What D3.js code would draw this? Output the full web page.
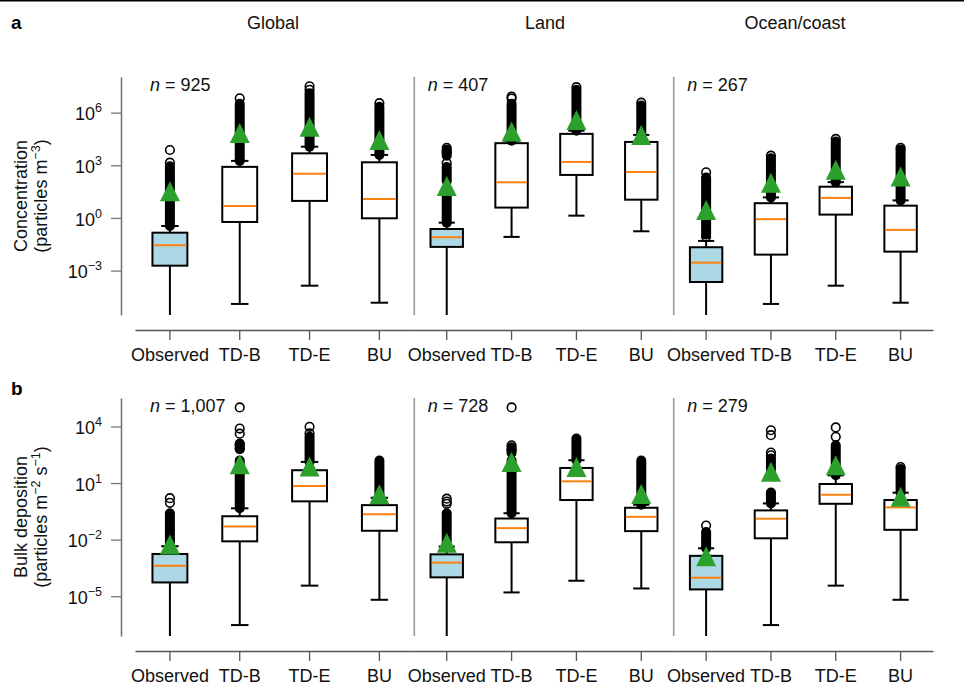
<!DOCTYPE html>
<html>
<head>
<meta charset="utf-8">
<script src="https://cdn.jsdelivr.net/npm/d3@7"></script>
<style>
body { margin: 0; background: #fff; }
svg { font-family: "Liberation Sans", Arial, Helvetica, sans-serif; }
</style>
</head>
<body>
<script>
// all box statistics below are log10 of the value
// order: Global (Obs, TD-B, TD-E, BU), Land (...), Ocean/coast (...)
var regions = ["Global", "Land", "Ocean/coast"];
var models = ["Observed", "TD-B", "TD-E", "BU"];

// a: concentration (particles m-3)
var concN = ["925", "407", "267"];
var concQ1 = [-2.72, -0.23, 0.97, -0.02, -1.65, 0.59, 2.45, 1.04, -3.65, -2.09, 0.19, -1.92];
var concMed = [-1.56, 0.68, 2.52, 1.08, -1.10, 2.03, 3.19, 2.62, -2.55, -0.07, 1.14, -0.68];
var concQ3 = [-0.84, 2.91, 3.68, 3.17, -0.63, 4.26, 4.79, 4.33, -1.67, 0.84, 1.78, 0.70];
var concLo = [-6, -4.9, -3.86, -4.83, -6, -1.08, 0.13, -0.76, -6, -4.9, -3.86, -4.83];
var concHi = [-0.46, 3.25, 4.06, 3.59, -0.27, 4.4, 4.97, 4.73, -1.31, 1.17, 2.04, 1.0];
var concMean = [1.52, 4.84, 5.2, 4.44, 1.82, 4.92, 5.58, 4.73, 0.45, 2.0, 2.75, 2.36];
// runs of overlapping fliers [from, to], and single fliers
var concDense = [
  [[-0.46, 2.95]], [[3.25, 6.5]], [[4.06, 7.1]], [[3.59, 6.34]],
  [[-0.27, 1.5], [2.1, 2.9], [3.55, 3.9]], [[4.4, 6.5]], [[4.97, 7.3]], [[4.73, 6.4]],
  [[-0.95, 2.3]], [[1.17, 3.4]], [[2.04, 4.35]], [[1.0, 3.9]]
];
var concFliers = [
  [3.15, 3.87], [6.82], [7.3, 7.5], [6.54],
  [3.12, 3.75, 4.0], [6.8, 6.91], [7.45], [6.57],
  [-1.07, 2.6], [3.55], [4.5], [4.0]
];

// b: bulk deposition (particles m-2 s-1)
var depN = ["1,007", "728", "279"];
var depQ1 = [-4.27, -2.09, 0.03, -1.53, -4.00, -2.14, 0.10, -1.55, -4.64, -1.93, -0.10, -1.48];
var depMed = [-3.39, -1.30, 0.84, -0.66, -3.22, -1.39, 1.09, -0.79, -4.02, -0.89, 0.38, -0.29];
var depQ3 = [-2.76, -0.76, 1.68, -0.17, -2.78, -0.88, 1.80, -0.31, -2.86, -0.45, 0.95, 0.10];
var depLo = [-8, -6.53, -4.44, -5.19, -8, -4.8, -4.18, -4.59, -8, -6.53, -4.44, -5.19];
var depHi = [-2.35, -0.34, 2.12, 0.22, -2.37, -0.6, 2.21, -0.15, -2.46, -0.08, 1.41, 0.49];
var depMean = [-2.26, 2.0, 1.88, 0.4, -2.17, 2.12, 1.85, 0.42, -2.88, 1.6, 1.94, 0.28];
var depDense = [
  [[-2.35, -0.6]], [[-0.34, 2.2], [2.8, 3.1]], [[2.12, 3.45]], [[0.22, 2.2]],
  [[-2.37, -0.6]], [[-0.6, 2.2], [2.6, 2.9]], [[2.21, 3.36]], [[-0.15, 2.2]],
  [[-2.46, -1.6]], [[-0.08, 0.5], [1.7, 2.3]], [[1.41, 3.0]], [[0.49, 1.75]]
];
var depFliers = [
  [-0.05, 0.2], [2.83, 3.05, 3.62, 3.89, 5.01], [3.63, 3.98], [],
  [-0.1, 0.02, 0.17], [2.75, 3.0, 5.01], [], [],
  [-1.25], [0.45, 2.47, 2.62, 3.54, 3.8], [3.45, 3.95], [1.85]
];

var concTicks = [-3, 0, 3, 6];
var depTicks = [-5, -2, 1, 4];

var width = 964;
var height = 685;

var svg = d3.select("body")
            .append("svg")
            .attr("width", width)
            .attr("height", height);

// rule at the very top
svg.append("line")
   .attr("x1", 0).attr("x2", width)
   .attr("y1", 0.75).attr("y2", 0.75)
   .attr("stroke", "#000")
   .attr("stroke-width", 1.5);

var regionX = [[135, 414.3], [414.3, 673.7], [673.7, 933]];
var xScales = regionX.map(function(r){
  return d3.scaleBand().domain(models).range(r);
});

var panels = [
  { id: "a", top: 77, bottom: 315, axisY: 330, dom: [-5.53, 8.03], ticks: concTicks,
    n: concN, q1: concQ1, med: concMed, q3: concQ3, lo: concLo, hi: concHi,
    mean: concMean, dense: concDense, fliers: concFliers,
    label: ["Concentration", ["(particles m", ["−3"], ")"]] },
  { id: "b", top: 398, bottom: 636, axisY: 651, dom: [-7.11, 5.51], ticks: depTicks,
    n: depN, q1: depQ1, med: depMed, q3: depQ3, lo: depLo, hi: depHi,
    mean: depMean, dense: depDense, fliers: depFliers,
    label: ["Bulk deposition", ["(particles m", ["−2"], " s", ["−1"], ")"]] }
];

function supText(sel, parts){
  // parts: strings, or one-element arrays for superscripts
  var up = false;
  parts.forEach(function(p){
    if (Array.isArray(p)) {
      sel.append("tspan").attr("dy", -7).attr("font-size", 12.5).text(p[0]);
      up = true;
    } else {
      sel.append("tspan").attr("dy", up ? 7 : 0).text(p);
      up = false;
    }
  });
}

panels.forEach(function(p){

  var yScale = d3.scaleLog()
                 .domain([Math.pow(10, p.dom[0]), Math.pow(10, p.dom[1])])
                 .range([p.bottom, p.top]);
  var y = function(v){ return yScale(Math.pow(10, v)); };

  var g = svg.append("g");

  // panel letter
  g.append("text")
   .attr("x", 11).attr("y", p.id == "a" ? 29 : 395)
   .attr("font-size", 19).attr("font-weight", "bold")
   .text(p.id);

  // y axis
  var yAxis = d3.axisLeft(yScale)
                .tickValues(p.ticks.map(function(t){ return Math.pow(10, t); }))
                .tickSize(10)
                .tickSizeOuter(0)
                .tickPadding(9)
                .tickFormat("");
  var ya = g.append("g")
            .attr("transform", "translate(121,0)")
            .call(yAxis);
  ya.select(".domain").attr("stroke", "#777").attr("stroke-width", 1.6);
  ya.selectAll(".tick line").attr("stroke", "#777").attr("stroke-width", 1.3);
  ya.selectAll(".tick text")
    .attr("font-size", 18).attr("fill", "#111").attr("dy", "0.4em")
    .each(function(d){
      var e = Math.round(Math.log10(d));
      var t = d3.select(this);
      t.append("tspan").text("10");
      t.append("tspan").attr("dy", -8).attr("font-size", 12.5)
       .text(e < 0 ? "−" + (-e) : String(e));
    });

  // y label
  var mid = (p.top + p.bottom) / 2;
  g.append("text")
   .attr("transform", "translate(27," + mid + ") rotate(-90)")
   .attr("text-anchor", "middle").attr("font-size", 18).attr("fill", "#111")
   .text(p.label[0]);
  var l2 = g.append("text")
            .attr("transform", "translate(47," + mid + ") rotate(-90)")
            .attr("text-anchor", "middle").attr("font-size", 18).attr("fill", "#111");
  supText(l2, p.label[1]);

  var clipId = "clip-" + p.id;
  svg.append("clipPath").attr("id", clipId)
     .append("rect")
     .attr("x", 122).attr("y", p.top - 20)
     .attr("width", width - 122).attr("height", p.bottom - p.top + 20);

  regions.forEach(function(reg, ri){
    var xs = xScales[ri];
    var bw = xs.bandwidth();
    var boxW = bw * 0.5;
    var capW = boxW * 0.5;

    // separator between regions
    if (ri > 0) {
      g.append("line")
       .attr("x1", xs.range()[0]).attr("x2", xs.range()[0])
       .attr("y1", p.top).attr("y2", p.bottom)
       .attr("stroke", "#999").attr("stroke-width", 1.6);
    }

    // region title (panel a only)
    if (p.id == "a") {
      g.append("text")
       .attr("x", ri == 0 ? 273 : (ri == 1 ? 545 : 795)).attr("y", 29)
       .attr("text-anchor", "middle").attr("font-size", 18).attr("fill", "#111")
       .text(reg);
    }

    // n = ...
    var nt = g.append("text")
              .attr("x", ri == 0 ? 150 : xs.range()[0] + 13.5)
              .attr("y", p.top + 14)
              .attr("font-size", 18).attr("fill", "#111");
    nt.append("tspan").attr("font-style", "italic").text("n");
    nt.append("tspan").text(" = " + p.n[ri]);

    // x axis
    var xAxis = d3.axisBottom(xs).tickSize(10).tickSizeOuter(0).tickPadding(8);
    var xa = g.append("g")
              .attr("transform", "translate(0," + p.axisY + ")")
              .call(xAxis);
    xa.select(".domain").attr("stroke", "#555").attr("stroke-width", 1.6);
    xa.selectAll(".tick line").attr("stroke", "#555").attr("stroke-width", 1.3);
    xa.selectAll(".tick text").attr("font-size", 18).attr("fill", "#111");

    var cg = g.append("g").attr("clip-path", "url(#" + clipId + ")");

    models.forEach(function(m, mi){
      var i = ri * 4 + mi;
      var cx = xs(m) + bw / 2;

      // whiskers
      cg.append("line")
        .attr("x1", cx).attr("x2", cx)
        .attr("y1", y(p.q1[i])).attr("y2", y(p.lo[i]))
        .attr("stroke", "#000").attr("stroke-width", 2);
      cg.append("line")
        .attr("x1", cx).attr("x2", cx)
        .attr("y1", y(p.q3[i])).attr("y2", y(p.hi[i]))
        .attr("stroke", "#000").attr("stroke-width", 2);
      [p.lo[i], p.hi[i]].forEach(function(v){
        cg.append("line")
          .attr("x1", cx - capW / 2).attr("x2", cx + capW / 2)
          .attr("y1", y(v)).attr("y2", y(v))
          .attr("stroke", "#000").attr("stroke-width", 2);
      });

      // box
      cg.append("rect")
        .attr("x", cx - boxW / 2)
        .attr("y", y(p.q3[i]))
        .attr("width", boxW)
        .attr("height", y(p.q1[i]) - y(p.q3[i]))
        .attr("fill", mi == 0 ? "#add8e6" : "#fff")
        .attr("stroke", "#000").attr("stroke-width", 2);
      cg.append("line")
        .attr("x1", cx - boxW / 2 + 1).attr("x2", cx + boxW / 2 - 1)
        .attr("y1", y(p.med[i])).attr("y2", y(p.med[i]))
        .attr("stroke", "#ff7f0e").attr("stroke-width", 2);

      // fliers
      p.dense[i].forEach(function(r){
        cg.append("line")
          .attr("x1", cx).attr("x2", cx)
          .attr("y1", y(r[0])).attr("y2", y(r[1]))
          .attr("stroke", "#000").attr("stroke-width", 10)
          .attr("stroke-linecap", "round");
      });
      cg.selectAll(null)
        .data(p.fliers[i])
        .enter()
        .append("circle")
        .attr("cx", cx)
        .attr("cy", function(d){ return y(d); })
        .attr("r", 4.3)
        .attr("fill", "none")
        .attr("stroke", "#000").attr("stroke-width", 1.6);

      // mean
      var my = y(p.mean[i]);
      cg.append("path")
        .attr("d", "M" + cx + "," + (my - 10) + "L" + (cx + 10) + "," + (my + 10) +
                   "L" + (cx - 10) + "," + (my + 10) + "Z")
        .attr("fill", "#2ca02c");
    });
  });
});
</script>
</body>
</html>
